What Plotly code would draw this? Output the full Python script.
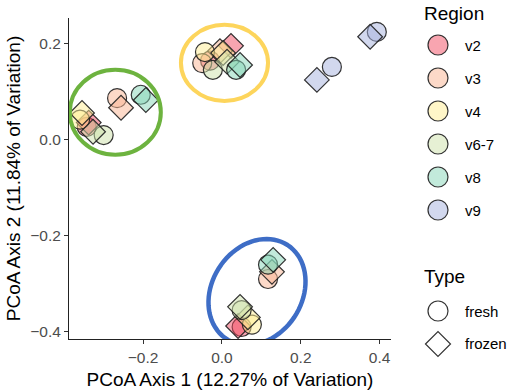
import numpy as np
import plotly.graph_objects as go

# ---------------- data ----------------
regions = ["v2", "v3", "v4", "v6-7", "v8", "v9"]
region_colors = ["rgba(241,75,97,0.5)", "rgba(249,179,145,0.5)", "rgba(255,237,145,0.5)",
                 "rgba(205,225,169,0.5)", "rgba(133,213,183,0.5)", "rgba(165,177,221,0.5)"]
types = ["fresh", "frozen"]

pt_region = ["v2", "v2", "v3", "v3", "v4", "v4", "v6-7", "v6-7", "v8", "v8",
             "v2", "v2", "v3", "v3", "v4", "v4", "v6-7", "v6-7", "v8", "v8",
             "v2", "v2", "v3", "v3", "v4", "v4", "v6-7", "v6-7", "v8", "v8",
             "v9", "v9", "v9", "v9"]
pt_type = ["fresh", "frozen"] * 15 + ["fresh", "frozen", "fresh", "frozen"]
pcoa1 = [-0.343, -0.338, -0.266, -0.256, -0.360, -0.355, -0.300, -0.327, -0.206, -0.193,
         -0.030, 0.023, -0.050, -0.005, -0.043, 0.003, -0.023, 0.013, 0.036, 0.046,
         0.050, 0.041, 0.117, 0.127, 0.076, 0.066, 0.050, 0.046, 0.117, 0.130,
         0.279, 0.241, 0.393, 0.376]
pcoa2 = [0.027, 0.036, 0.087, 0.067, 0.042, 0.056, 0.010, 0.017, 0.094, 0.083,
         0.165, 0.196, 0.160, 0.185, 0.183, 0.181, 0.146, 0.163, 0.146, 0.156,
         -0.390, -0.388, -0.290, -0.275, -0.385, -0.370, -0.355, -0.348, -0.260, -0.250,
         0.152, 0.125, 0.225, 0.215]

x_ticks = [-0.2, 0.0, 0.2, 0.4]
y_ticks = [-0.4, -0.2, 0.0, 0.2]

# ---------------- figure ----------------
W, H = 512, 391
ML, MR, MT, MB = 69, 121, 18, 52
XR = [-0.388, 0.429]
YR = [-0.415, 0.254]
FONT = "Liberation Sans, Arial, sans-serif"
symbol_map = {"fresh": "circle", "frozen": "diamond"}
OUTLINE = dict(color="rgba(30,30,30,0.9)", width=1.2)

fig = go.Figure()
for reg, col in zip(regions, region_colors):
    idx = [i for i, r in enumerate(pt_region) if r == reg]
    fig.add_trace(go.Scatter(
        x=[pcoa1[i] for i in idx], y=[pcoa2[i] for i in idx], mode="markers",
        marker=dict(size=19, color=col, symbol=[symbol_map[pt_type[i]] for i in idx],
                    line=OUTLINE),
        showlegend=False, hoverinfo="skip"))

# cluster ellipses (pixel -> data helpers)
px_per_x = (W - ML - MR) / (XR[1] - XR[0])
px_per_y = (H - MT - MB) / (YR[1] - YR[0])
shapes = []
shapes.append(dict(type="circle", xref="x", yref="y", x0=-0.386, x1=-0.155, y0=-0.031, y1=0.146,
                   line=dict(color="#6DB33F", width=4), layer="above"))
shapes.append(dict(type="circle", xref="x", yref="y", x0=-0.104, x1=0.117, y0=0.081, y1=0.240,
                   line=dict(color="#FDD55C", width=4), layer="above"))
# tilted ellipse for the blue cluster
cx, cy, a, b, phi = 0.089, -0.317, 56, 45, np.deg2rad(33)
t = np.linspace(0, 2 * np.pi, 80)
ux, uy = np.sin(phi), np.cos(phi)   # major axis direction (up-right) in pixel space, y up
vx, vy = np.cos(phi), -np.sin(phi)
ex = cx + (a * np.cos(t) * ux + b * np.sin(t) * vx) / px_per_x
ey = cy + (a * np.cos(t) * uy + b * np.sin(t) * vy) / px_per_y
path = "M " + " L ".join(f"{xx:.5f},{yy:.5f}" for xx, yy in zip(ex, ey)) + " Z"
shapes.append(dict(type="path", xref="x", yref="y", path=path,
                   line=dict(color="#3E6DC6", width=4.5), layer="above"))

# manual legend (pixel layout -> paper coords)
def pxx(px):
    return (px - ML) / (W - ML - MR)

def pxy(py):
    return (H - MB - py) / (H - MT - MB)

annotations = []
leg_x, lab_x = 438, 463
annotations.append(dict(text="Region", x=pxx(422), y=pxy(13), xref="paper", yref="paper",
                        xanchor="left", yanchor="middle", showarrow=False,
                        font=dict(family=FONT, size=19, color="black")))
for i, (reg, col) in enumerate(zip(regions, region_colors)):
    yy = 45 + 33 * i
    shapes.append(dict(type="circle", xref="paper", yref="paper", xsizemode="pixel",
                       ysizemode="pixel", xanchor=pxx(leg_x), yanchor=pxy(yy),
                       x0=-10, x1=10, y0=-10, y1=10, fillcolor=col, line=OUTLINE))
    annotations.append(dict(text=reg, x=pxx(lab_x), y=pxy(yy), xref="paper", yref="paper",
                            xanchor="left", yanchor="middle", showarrow=False,
                            font=dict(family=FONT, size=15, color="black")))
annotations.append(dict(text="Type", x=pxx(422), y=pxy(276), xref="paper", yref="paper",
                        xanchor="left", yanchor="middle", showarrow=False,
                        font=dict(family=FONT, size=19, color="black")))
for i, tp in enumerate(types):
    yy = 311 + 33 * i
    if tp == "fresh":
        shapes.append(dict(type="circle", xref="paper", yref="paper", xsizemode="pixel",
                           ysizemode="pixel", xanchor=pxx(leg_x), yanchor=pxy(yy),
                           x0=-10, x1=10, y0=-10, y1=10, fillcolor="white",
                           line=OUTLINE))
    else:
        shapes.append(dict(type="path", xref="paper", yref="paper", xsizemode="pixel",
                           ysizemode="pixel", xanchor=pxx(leg_x), yanchor=pxy(yy),
                           path="M -12.5,0 L 0,12.5 L 12.5,0 L 0,-12.5 Z", fillcolor="white",
                           line=OUTLINE))
    annotations.append(dict(text=tp, x=pxx(lab_x), y=pxy(yy), xref="paper", yref="paper",
                            xanchor="left", yanchor="middle", showarrow=False,
                            font=dict(family=FONT, size=15, color="black")))

axis_common = dict(showgrid=False, zeroline=False, showline=True, linecolor="#222",
                   linewidth=1, ticks="outside", ticklen=4, tickcolor="#333", tickwidth=1,
                   tickfont=dict(family=FONT, size=15.5, color="#4D4D4D"), mirror=False)
fig.update_layout(
    width=W, height=H, margin=dict(l=ML, r=MR, t=MT, b=MB, autoexpand=False),
    paper_bgcolor="white", plot_bgcolor="white",
    xaxis=dict(range=XR, tickvals=x_ticks, ticktext=[f"{v:.1f}".replace("-", "\u2212") for v in x_ticks],
               title=dict(text="PCoA Axis 1 (12.27% of Variation)", standoff=8,
                          font=dict(family=FONT, size=19, color="black")), **axis_common),
    yaxis=dict(range=YR, tickvals=y_ticks, ticktext=[f"{v:.1f}".replace("-", "\u2212") for v in y_ticks],
               title=dict(text="PCoA Axis 2 (11.84% of Variation)", standoff=4,
                          font=dict(family=FONT, size=19, color="black")), **axis_common),
    shapes=shapes, annotations=annotations, showlegend=False,
)

fig.write_html("out.html", config={"displayModeBar": False},
               post_script="document.body.style.margin='0px';")
